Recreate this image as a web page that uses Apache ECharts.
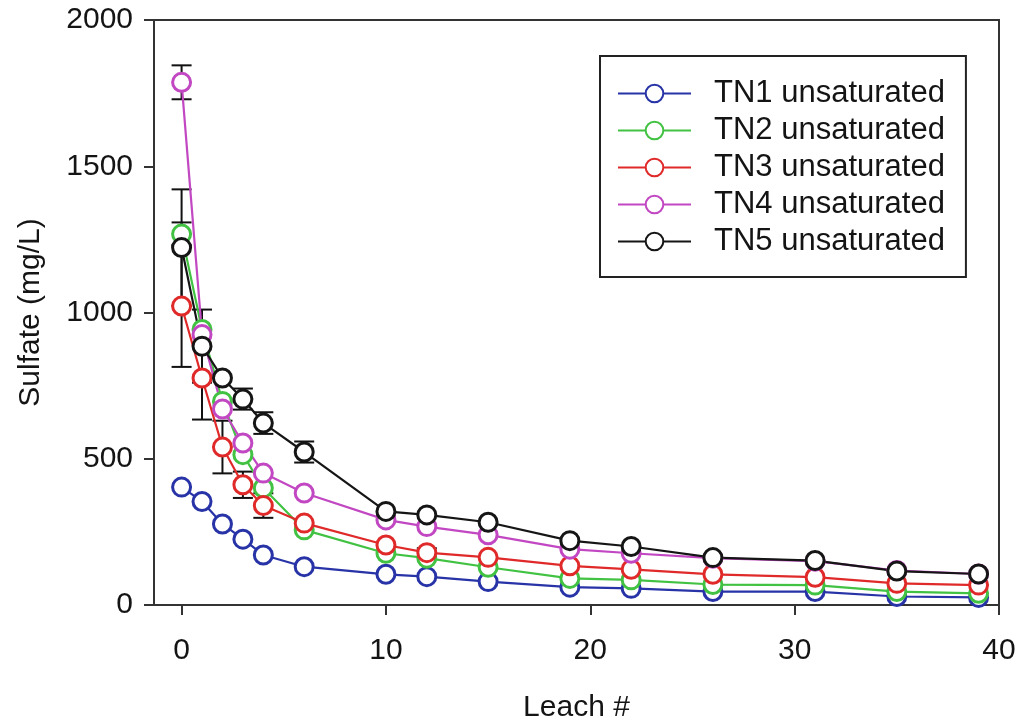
<!DOCTYPE html>
<html>
<head>
<meta charset="utf-8">
<script src="https://cdn.jsdelivr.net/npm/echarts@6/dist/echarts.min.js"></script>
<style>
  html, body { margin: 0; padding: 0; background: #fff; }
  #chart { width: 1021px; height: 724px; }
</style>
</head>
<body>
<div id="chart"></div>
<script>
// Leach number (x) and sulfate concentration (mg/L) for each column
const leach = [0, 1, 2, 3, 4, 6, 10, 12, 15, 19, 22, 26, 31, 35, 39];

const tn1 = [403, 354, 277, 225, 171, 131, 105, 97, 80, 61, 57, 46, 46, 29, 26];
const tn2 = [1268, 942, 696, 514, 400, 257, 177, 160, 129, 91, 86, 70, 68, 46, 40];
const tn3 = [1022, 776, 540, 411, 340, 280, 205, 179, 163, 134, 122, 105, 95, 74, 68];
const tn4 = [1787, 925, 670, 554, 451, 383, 291, 268, 240, 191, 177, 160, 150, 118, 106];
const tn5 = [1222, 885, 776, 704, 622, 523, 320, 308, 283, 220, 200, 162, 152, 116, 106];

// Standard deviations (0 = no visible bar)
const tn1Err = [0, 0, 0, 0, 0, 0, 0, 0, 0, 0, 0, 0, 0, 0, 0];
const tn2Err = [40, 0, 0, 0, 0, 0, 0, 0, 0, 0, 0, 0, 0, 0, 0];
const tn3Err = [208, 142, 90, 45, 42, 0, 0, 15, 0, 0, 0, 0, 0, 0, 0];
const tn4Err = [58, 0, 0, 0, 0, 0, 0, 0, 0, 0, 0, 0, 0, 0, 0];
const tn5Err = [199, 125, 0, 36, 37, 36, 0, 0, 0, 0, 0, 0, 0, 0, 0];

const seriesNames = ['TN1 unsaturated', 'TN2 unsaturated', 'TN3 unsaturated', 'TN4 unsaturated', 'TN5 unsaturated'];
const seriesColors = ['#2733a6', '#42c242', '#e02a2a', '#c247c2', '#151515'];
const xTicks = [0, 10, 20, 30, 40];

const values = [tn1, tn2, tn3, tn4, tn5];
const errors = [tn1Err, tn2Err, tn3Err, tn4Err, tn5Err];

const FONT = "'Liberation Sans', Arial, Helvetica, sans-serif";
const TEXT = '#141414';
const AXIS = '#333';

const lineSeries = values.map((vals, i) => ({
  name: seriesNames[i],
  type: 'line',
  data: leach.map((x, k) => [x, vals[k]]),
  symbol: 'circle',
  symbolSize: 18,
  lineStyle: { color: seriesColors[i], width: 2.2 },
  itemStyle: { color: '#fff', borderColor: seriesColors[i], borderWidth: 3 },
  emphasis: { disabled: true }
}));

// Error bars: vertical whisker with caps
const errData = [];
values.forEach((vals, i) => {
  errors[i].forEach((e, k) => {
    if (e > 0) errData.push([leach[k], vals[k], e]);
  });
});

const errorSeries = {
  type: 'custom',
  z: 1,
  silent: true,
  data: errData,
  encode: { x: 0, y: 1 },
  renderItem(params, api) {
    const x = api.value(0), y = api.value(1), e = api.value(2);
    const top = api.coord([x, y + e]);
    const bot = api.coord([x, y - e]);
    const hw = 10;
    const st = { stroke: '#111', lineWidth: 2 };
    return {
      type: 'group',
      children: [
        { type: 'line', shape: { x1: top[0], y1: top[1], x2: bot[0], y2: bot[1] }, style: st },
        { type: 'line', shape: { x1: top[0] - hw, y1: top[1], x2: top[0] + hw, y2: top[1] }, style: st },
        { type: 'line', shape: { x1: bot[0] - hw, y1: bot[1], x2: bot[0] + hw, y2: bot[1] }, style: st }
      ]
    };
  }
};

const chart = echarts.init(document.getElementById('chart'), null, { renderer: 'canvas' });
chart.setOption({
  animation: false,
  backgroundColor: '#fff',
  textStyle: { fontFamily: FONT, color: TEXT },
  grid: {
    left: 154, right: 22, top: 20, bottom: 119,
    outerBoundsMode: 'none',
    containLabel: false,
    show: true, borderColor: AXIS, borderWidth: 2, backgroundColor: 'transparent'
  },
  legend: {
    data: seriesNames,
    orient: 'vertical',
    left: 600, top: 56,
    padding: [22, 21, 20, 17],
    itemWidth: 73,
    itemHeight: 22,
    itemGap: 6,
    borderColor: '#222',
    borderWidth: 2,
    backgroundColor: '#fff',
    selectedMode: false,
    textStyle: { fontFamily: FONT, fontSize: 31, color: TEXT, padding: [0, 0, 0, 18] }
  },
  xAxis: {
    type: 'value',
    min: -1.35,
    max: 40,
    name: 'Leach #',
    nameLocation: 'middle',
    nameGap: 88,
    nameTextStyle: { fontFamily: FONT, fontSize: 30, color: TEXT },
    axisLine: { show: true, onZero: false, lineStyle: { color: AXIS, width: 2 } },
    axisTick: { show: true, length: 10, inside: false, customValues: xTicks, lineStyle: { color: AXIS, width: 2 } },
    axisLabel: { customValues: xTicks, fontFamily: FONT, fontSize: 30, color: TEXT, margin: 31 },
    splitLine: { show: false }
  },
  yAxis: {
    type: 'value',
    min: 0,
    max: 2000,
    interval: 500,
    name: 'Sulfate (mg/L)',
    nameLocation: 'middle',
    nameGap: 108,
    nameTextStyle: { fontFamily: FONT, fontSize: 30, color: TEXT },
    axisLine: { show: true, onZero: false, lineStyle: { color: AXIS, width: 2 } },
    axisTick: { show: true, length: 10, inside: false, lineStyle: { color: AXIS, width: 2 } },
    axisLabel: { fontFamily: FONT, fontSize: 30, color: TEXT, margin: 21, formatter: (v) => String(v) },
    splitLine: { show: false }
  },
  series: [errorSeries].concat(lineSeries)
});
</script>
</body>
</html>
